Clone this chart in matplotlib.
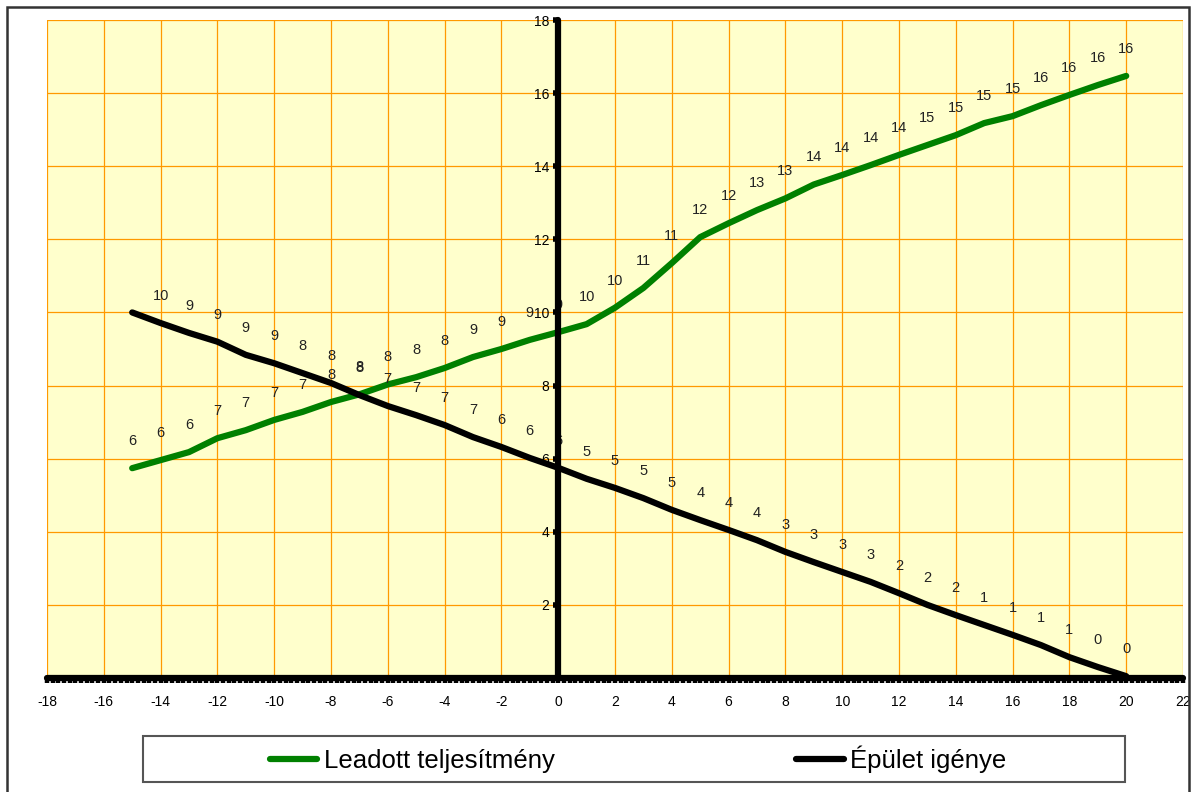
import matplotlib
matplotlib.use("Agg")
import matplotlib.pyplot as plt
from matplotlib.ticker import MultipleLocator
from matplotlib.patches import Rectangle

plt.rcParams['font.family'] = ['Liberation Sans', 'DejaVu Sans']
plt.rcParams['axes.unicode_minus'] = False

# data
x = [-15, -14, -13, -12, -11, -10, -9, -8, -7, -6, -5, -4, -3, -2, -1, 0, 1, 2,
     3, 4, 5, 6, 7, 8, 9, 10, 11, 12, 13, 14, 15, 16, 17, 18, 19, 20]
leadott = [5.74, 5.96, 6.18, 6.56, 6.78, 7.06, 7.28, 7.55, 7.76, 8.03, 8.23, 8.48,
           8.78, 9.0, 9.25, 9.46, 9.68, 10.13, 10.67, 11.35, 12.06, 12.44, 12.8, 13.12,
           13.5, 13.76, 14.03, 14.31, 14.58, 14.85, 15.18, 15.37, 15.67, 15.95, 16.22, 16.47]
igeny = [10.0, 9.71, 9.44, 9.2, 8.84, 8.61, 8.34, 8.07, 7.74, 7.44, 7.19, 6.92,
         6.59, 6.32, 6.02, 5.75, 5.45, 5.2, 4.92, 4.6, 4.32, 4.05, 3.77, 3.45,
         3.17, 2.9, 2.63, 2.32, 2.0, 1.72, 1.45, 1.18, 0.9, 0.57, 0.3, 0.05]
leadott_labels = ["6", "6", "6", "7", "7", "7", "7", "8", "8", "8", "8", "8", "9", "9", "9", "9",
                  "10", "10", "11", "11", "12", "12", "13", "13", "14", "14", "14", "14",
                  "15", "15", "15", "15", "16", "16", "16", "16"]
igeny_labels = ["", "10", "9", "9", "9", "9", "8", "8", "8", "7", "7", "7", "7", "6", "6", "6",
                "5", "5", "5", "5", "4", "4", "4", "3", "3", "3", "3", "2", "2", "2",
                "1", "1", "1", "1", "0", "0"]
xticks = [-18, -16, -14, -12, -10, -8, -6, -4, -2, 0, 2, 4, 6, 8, 10, 12, 14, 16, 18, 20, 22]
yticks = [0, 2, 4, 6, 8, 10, 12, 14, 16, 18]

W, H = 1195, 792
fig = plt.figure(figsize=(W / 100, H / 100), dpi=100)
ax = fig.add_axes([47 / W, 1 - 678 / H, (1183 - 47) / W, (678 - 20) / H])
ax.set_facecolor("#FFFFCC")
ax.set_xlim(-18, 22)
ax.set_ylim(0, 18)

ax.set_xticks(xticks)
ax.set_yticks(yticks)
ax.set_yticklabels(["" if v == 0 else str(v) for v in yticks])
ax.xaxis.set_minor_locator(MultipleLocator(0.2))
ax.grid(True, color="#FF9900", linewidth=0.9, zorder=0)
ax.set_axisbelow(True)

ax.spines["top"].set_visible(False)
ax.spines["right"].set_visible(False)
ax.spines["left"].set_position(("data", 0))
for s in ["left", "bottom"]:
    ax.spines[s].set_linewidth(4.5)
    ax.spines[s].set_capstyle("round")
    ax.spines[s].set_zorder(6)

ax.tick_params(axis="x", which="major", direction="out", length=3.5, width=3.2,
               labelsize=10, pad=9, colors="black")
ax.tick_params(axis="x", which="minor", direction="out", length=3.5, width=3.2, colors="black")
ax.tick_params(axis="y", which="major", direction="out", length=3.5, width=4,
               labelsize=10, pad=3, colors="black")
for t in ax.xaxis.get_ticklines(minor=True) + ax.xaxis.get_ticklines() + ax.yaxis.get_ticklines():
    t.set_zorder(6)

ax.plot(x, leadott, color="#008000", linewidth=4.5, solid_capstyle="round",
        solid_joinstyle="round", zorder=3, label="Leadott teljesítmény")
ax.plot(x, igeny, color="black", linewidth=4.5, solid_capstyle="round",
        solid_joinstyle="round", zorder=3, label="Épület igénye")

for xi, yi, t in zip(x, leadott, leadott_labels):
    ax.annotate(t, (xi, yi), xytext=(0, 19.5), textcoords="offset points",
                ha="center", va="center", fontsize=10.5, color="#222222", zorder=4)
for xi, yi, t in zip(x, igeny, igeny_labels):
    ax.annotate(t, (xi, yi), xytext=(0, 19.5), textcoords="offset points",
                ha="center", va="center", fontsize=10.5, color="#222222", zorder=4)

# legend box and outer frame
fig.patches.append(Rectangle((143 / W, 1 - 782 / H), (1125 - 143) / W, 46 / H,
                             transform=fig.transFigure, fill=False,
                             edgecolor="#555555", linewidth=1.5))
fig.patches.append(Rectangle((7 / W, -0.05), (1189 - 7) / W, 1.05 - 7 / H,
                             transform=fig.transFigure, fill=False,
                             edgecolor="#333333", linewidth=1.8))
fig.legend(loc="center", bbox_to_anchor=(638 / W, 1 - 759 / H), ncol=2,
           frameon=False, fontsize=18.5, handlelength=1.85, handletextpad=0.25,
           columnspacing=9.4)

fig.savefig("out.png", dpi=100)
